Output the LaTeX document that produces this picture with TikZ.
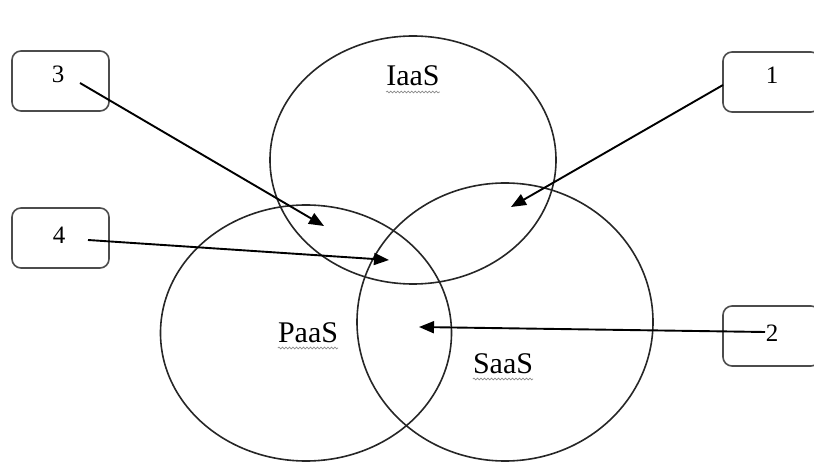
\documentclass[tikz,border=0pt]{standalone}
\usepackage{fontspec}
\setmainfont{Liberation Serif}
\usetikzlibrary{arrows.meta,shapes.geometric,decorations.pathmorphing,calc}
\begin{document}
\begin{tikzpicture}[x=1pt,y=-1pt,
  venn/.style={ellipse,draw=black!85,line width=1.6pt,inner sep=0pt},
  numbox/.style={draw=black!70,line width=1.6pt,rounded corners=9pt,minimum width=97pt,minimum height=60pt,inner sep=0pt},
  digit/.style={font=\fontsize{25}{30}\selectfont,inner sep=0pt},
  setlabel/.style={font=\fontsize{30}{36}\selectfont,inner sep=0pt,anchor=base},
  pointer/.style={line width=1.9pt,black,-{Triangle[length=15pt,width=12pt]}},
  squiggle/.style={draw=black!45,line width=0.7pt,decorate,decoration={snake,amplitude=0.9pt,segment length=3.5pt}}]
\useasboundingbox (0,0) rectangle (814,462);
\clip (0,0) rectangle (814,462);
% ellipses
\node[venn,minimum width=286pt,minimum height=248pt] (iaas) at (413,160) {};
\node[venn,minimum width=291pt,minimum height=256pt] (paas) at (306,333) {};
\node[venn,minimum width=296pt,minimum height=278pt] (saas) at (505,322) {};
% set labels
\node[setlabel] (liaas) at (413,86) {IaaS};
\node[setlabel] (lpaas) at (308,342) {PaaS};
\node[setlabel] (lsaas) at (503,373) {SaaS};
\draw[squiggle] ($(liaas.base west)+(0,6)$) -- ($(liaas.base east)+(0,6)$);
\draw[squiggle] ($(lpaas.base west)+(0,6)$) -- ($(lpaas.base east)+(0,6)$);
\draw[squiggle] ($(lsaas.base west)+(0,6)$) -- ($(lsaas.base east)+(0,6)$);
% boxes
\node[numbox] (b3) at (60.5,81) {};
\node[numbox] (b4) at (60.5,238) {};
\node[numbox] (b1) at (771.5,82) {};
\node[numbox] (b2) at (771.5,336) {};
\node[digit] (d3) at (58,74) {3};
\node[digit] (d4) at (59,235) {4};
\node[digit] (d1) at (772,75) {1};
\node[digit] (d2) at (772,333) {2};
% arrow ends
\coordinate (s3) at (80,83);
\coordinate (t3) at (324,226);
\coordinate (s4) at (88,240);
\coordinate (t4) at (389,260);
\coordinate (s1) at (723,85);
\coordinate (t1) at (511,207);
\coordinate (s2) at (765,332);
\coordinate (t2) at (419,327);
\draw[pointer] (s3) -- (t3);
\draw[pointer] (s4) -- (t4);
\draw[pointer] (s1) -- (t1);
\draw[pointer] (s2) -- (t2);
\end{tikzpicture}
\end{document}
